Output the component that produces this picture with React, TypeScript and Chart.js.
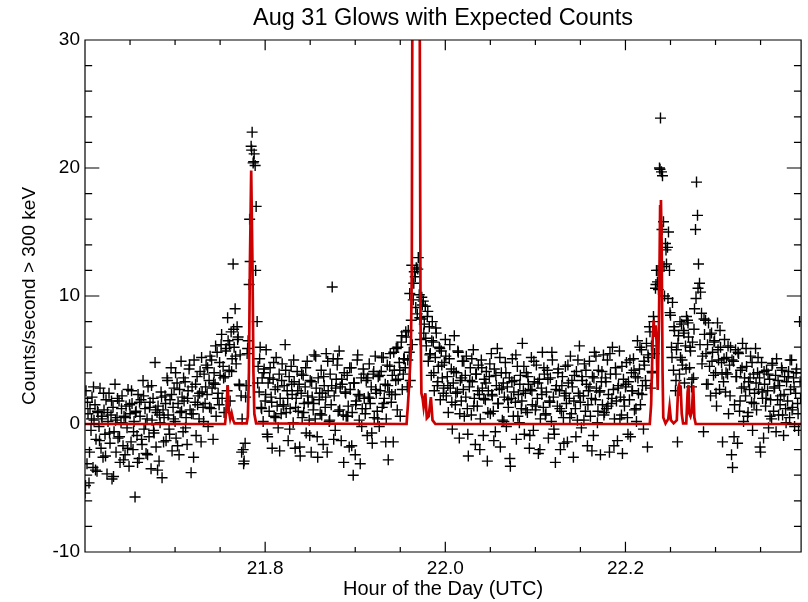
import { useEffect, useRef } from "react";
import { Chart, registerables } from "chart.js";

Chart.register(...registerables);

const chartTitle = "Aug 31 Glows with Expected Counts";
const xAxisTitle = "Hour of the Day (UTC)";
const yAxisTitle = "Counts/second > 300 keV";

const startHour = 21.6;
const xMin = 21.6;
const xMax = 22.395;
const yMin = -10;
const yMax = 30;

const xMajorTicks = [21.8, 22.0, 22.2];
const xMinorTicks = [21.65, 21.7, 21.75, 21.85, 21.9, 21.95, 22.05, 22.1, 22.15, 22.25, 22.3, 22.35];
const yMajorTicks = [-10, 0, 10, 20, 30];
const yMinorTicks = [-8, -6, -4, -2, 2, 4, 6, 8, 12, 14, 16, 18, 22, 24, 26, 28];

// sample times (set A), seconds after 21.6 h UTC
const sampleSecondsA = [
  0,4,8,12,16,20,24,28,32,36,40,44,48,52,56,60,64,68,72,76,
  80,84,88,92,96,100,104,108,112,116,120,124,128,132,136,140,144,148,152,156,
  160,164,168,172,176,180,184,188,192,196,200,204,208,212,216,220,224,228,232,236,
  240,244,248,252,256,260,264,268,272,276,280,284,288,292,296,300,304,308,312,316,
  320,324,328,332,336,340,344,348,352,356,360,364,368,372,376,380,384,388,392,396,
  400,404,408,412,416,420,424,428,432,436,440,444,448,452,456,460,464,468,472,476,
  480,484,488,492,496,500,504,508,512,516,520,524,528,532,536,540,544,548,552,556,
  560,564,568,572,576,580,584,588,592,596,600,604,608,612,616,620,624,628,632,636,
  640,644,648,652,656,660,664,668,672,676,680,684,688,692,696,700,704,708,712,716,
  720,724,728,732,736,740,744,748,752,756,760,764,768,772,776,780,784,788,792,796,
  800,804,808,812,816,820,824,828,832,836,840,844,848,852,856,860,864,868,872,876,
  880,884,888,892,896,900,904,908,912,916,920,924,928,932,936,940,944,948,952,956,
  960,964,968,972,976,980,984,988,992,996,1000,1004,1008,1012,1016,1020,1024,1028,1032,1036,
  1040,1044,1048,1052,1056,1060,1064,1068,1072,1076,1080,1084,1088,1092,1096,1100,1104,1108,1112,1116,
  1120,1124,1128,1132,1136,1140,1144,1148,1152,1156,1160,1164,1168,1172,1176,1180,1184,1188,1192,1196,
  1200,1204,1208,1212,1216,1220,1224,1228,1232,1236,1240,1244,1248,1252,1256,1260,1264,1268,1272,1276,
  1280,1284,1288,1292,1296,1300,1304,1308,1312,1316,1320,1324,1328,1332,1336,1340,1344,1348,1352,1356,
  1360,1364,1368,1372,1376,1380,1384,1388,1392,1396,1400,1404,1408,1412,1416,1420,1424,1428,1432,1436,
  1440,1444,1448,1452,1456,1460,1464,1468,1472,1476,1480,1484,1488,1492,1496,1500,1504,1508,1512,1516,
  1520,1524,1528,1532,1536,1540,1544,1548,1552,1556,1560,1564,1568,1572,1576,1580,1584,1588,1592,1596,
  1600,1604,1608,1612,1616,1620,1624,1628,1632,1636,1640,1644,1648,1652,1656,1660,1664,1668,1672,1676,
  1680,1684,1688,1692,1696,1700,1704,1708,1712,1716,1720,1724,1728,1732,1736,1740,1744,1748,1752,1756,
  1760,1764,1768,1772,1776,1780,1784,1788,1792,1796,1800,1804,1808,1812,1816,1820,1824,1828,1832,1836,
  1840,1844,1848,1852,1856,1860,1864,1868,1872,1876,1880,1884,1888,1892,1896,1900,1904,1908,1912,1916,
  1920,1924,1928,1932,1936,1940,1944,1948,1952,1956,1960,1964,1968,1972,1976,1980,1984,1988,1992,1996,
  2000,2004,2008,2012,2016,2020,2024,2028,2032,2036,2040,2044,2048,2052,2056,2060,2064,2068,2072,2076,
  2080,2084,2088,2092,2096,2100,2104,2108,2112,2116,2120,2124,2128,2132,2136,2140,2144,2148,2152,2156,
  2160,2164,2168,2172,2176,2180,2184,2188,2192,2196,2200,2204,2208,2212,2216,2220,2224,2228,2232,2236,
  2240,2244,2248,2252,2256,2260,2264,2268,2272,2276,2280,2284,2288,2292,2296,2300,2304,2308,2312,2316,
  2320,2324,2328,2332,2336,2340,2344,2348,2352,2356,2360,2364,2368,2372,2376,2380,2384,2388,2392,2396,
  2400,2404,2408,2412,2416,2420,2424,2428,2432,2436,2440,2444,2448,2452,2456,2460,2464,2468,2472,2476,
  2480,2484,2488,2492,2496,2500,2504,2508,2512,2516,2520,2524,2528,2532,2536,2540,2544,2548,2552,2556,
  2560,2564,2568,2572,2576,2580,2584,2588,2592,2596,2600,2604,2608,2612,2616,2620,2624,2628,2632,2636,
  2640,2644,2648,2652,2656,2660,2664,2668,2672,2676,2680,2684,2688,2692,2696,2700,2704,2708,2712,2716,
  2720,2724,2728,2732,2736,2740,2744,2748,2752,2756,2760,2764,2768,2772,2776,2780,2784,2788,2792,2796,
  2800,2804,2808,2812,2816,2820,2824,2828,2832,2836,2840,2844,2848,2852,2856,2860,
];

// measured counts/second > 300 keV (set A)
const countsPerSecondA = [
  -5.4,2.6,-3.1,0.8,-4.6,1.2,-0.5,2.1,-3.4,0.3,1.5,-1.2,-3.7,0.9,-0.2,2.8,-1.9,0.4,-2.6,1.1,
  -0.8,1.9,-3.9,0.2,2.4,-1.5,0.7,-4.3,1.3,-0.6,3.1,-2.2,0.5,-1.1,1.8,-3.0,0.1,2.2,-1.7,0.6,
  -2.4,1.4,-0.3,2.7,-3.3,0.8,-1.4,1.6,-2.0,0.2,-5.7,1.0,-0.9,2.3,-2.7,0.6,1.9,-1.6,3.4,-0.4,
  1.2,-2.3,0.4,2.9,-1.0,1.7,-3.5,0.3,2.0,-0.7,4.8,-1.8,0.9,1.4,-2.9,0.1,2.5,-4.2,1.1,0.5,
  2.2,-1.3,3.6,0.7,-0.4,1.9,4.4,-2.1,1.3,2.8,0.2,-1.1,3.2,1.6,-2.4,0.9,4.9,2.1,-0.6,1.8,
  3.3,0.5,-1.6,2.6,4.3,1.1,-3.8,2.9,0.8,5.0,1.7,-0.9,3.7,2.2,0.4,4.1,-1.4,2.5,1.3,3.9,
  1.6,4.6,2.3,-0.2,3.4,5.3,1.2,2.8,-1.2,4.0,3.1,0.6,5.6,2.4,1.5,3.8,6.2,2.0,4.5,0.9,
  3.7,5.9,2.6,6.5,4.2,1.8,7.2,5.1,12.5,6.0,9.0,4.7,7.6,6.8,3.1,5.4,2.2,0.4,-2.0,-2.9,
  -1.5,3.0,5.5,6.5,10.9,12.7,21.7,22.8,20.4,21.1,20.2,17.0,8.0,4.5,2.5,6.0,1.3,3.6,0.2,4.3,
  1.8,5.8,-0.8,3.2,1.0,4.4,2.1,-1.9,3.5,0.6,2.7,5.2,1.4,-0.3,3.9,2.0,0.8,4.7,1.5,3.0,
  6.2,0.9,2.6,-1.3,3.7,1.2,4.5,2.3,0.1,3.3,-1.9,2.0,4.1,1.0,3.1,-2.5,2.4,0.5,3.8,1.6,
  2.9,-0.7,4.9,1.7,0.3,3.4,-2.2,2.1,1.1,5.4,0.4,2.8,-1.0,3.6,1.9,0.8,4.2,2.4,-1.6,3.0,
  1.3,5.5,-2.2,2.6,0.2,3.9,1.5,10.7,5.1,2.2,-0.5,3.5,4.6,1.0,5.7,2.9,-1.3,3.1,0.7,4.0,
  2.5,0.6,3.8,1.4,-1.8,2.7,4.4,0.9,-4.0,3.2,-2.4,1.8,5.0,2.3,0.3,-3.1,3.6,1.2,4.3,2.0,
  0.8,3.4,-0.9,2.1,4.7,1.6,2.9,-1.5,3.9,0.5,5.3,2.4,1.0,3.7,-0.2,2.6,4.1,1.3,5.2,2.0,
  3.1,0.4,4.6,-2.8,2.5,5.5,1.7,3.8,-1.4,4.2,2.3,5.9,1.1,3.5,4.8,0.6,6.4,2.7,3.9,5.1,
  4.4,6.8,2.9,7.3,5.6,3.4,8.1,6.2,9.7,11.9,11.5,12.2,8.6,13.0,10.1,6.6,8.2,9.3,9.6,7.8,
  9.2,6.1,8.4,4.9,7.6,5.5,3.8,8.0,6.4,2.6,5.2,7.1,3.0,4.5,6.0,1.9,5.7,3.6,2.4,4.8,
  6.6,2.2,3.7,0.9,5.1,2.8,4.3,-0.4,3.2,6.9,1.5,4.0,2.5,5.6,-1.1,3.4,1.8,4.9,2.7,0.6,
  3.8,5.3,1.2,-2.5,2.9,4.4,0.7,3.3,5.8,2.0,-1.6,3.9,1.4,4.6,2.3,0.4,5.0,2.8,-0.9,3.5,
  1.9,4.1,-2.9,2.6,3.7,0.8,5.5,2.2,1.0,4.3,-0.6,3.0,5.9,1.6,2.7,-1.8,4.0,0.3,3.2,2.1,
  4.8,-0.2,2.9,1.3,3.6,-3.3,2.0,5.1,0.6,3.4,1.7,-1.2,4.5,2.3,0.1,3.8,1.2,6.3,2.6,-0.8,
  2.4,4.0,0.9,3.1,-1.9,2.7,5.2,1.5,-0.5,3.3,1.1,4.6,2.0,-2.3,3.5,0.4,2.8,5.6,1.3,3.9,
  0.7,2.5,4.2,-1.1,1.8,3.6,0.2,5.0,2.1,-0.8,-3.0,3.0,1.4,4.3,2.6,-2.0,1.0,3.7,0.5,2.2,
  4.5,1.6,-1.4,3.2,2.0,5.3,0.8,2.9,-2.6,3.8,1.2,4.1,0.3,2.4,6.1,1.7,-0.3,3.4,2.2,4.7,
  1.0,3.1,-1.7,2.6,4.9,0.6,2.0,3.7,-0.9,5.6,1.9,2.8,0.1,4.2,2.5,-2.4,3.3,1.5,5.4,0.9,
  3.6,1.2,5.0,2.3,-2.2,3.9,1.6,6.0,2.7,0.4,4.4,1.8,-1.3,3.0,5.7,2.1,0.7,-2.3,3.5,1.4,
  2.9,4.8,0.5,3.3,1.9,-1.0,4.0,2.6,5.1,1.1,3.7,0.2,6.5,2.4,4.3,1.5,5.8,3.0,-0.4,4.6,
  3.4,6.3,-1.8,5.2,7.6,2.8,6.1,4.0,8.4,5.5,10.6,12.0,11.1,10.5,20.0,23.9,19.7,19.4,15.8,10.0,
  14.1,12.5,13.8,15.0,12.0,8.5,6.0,9.5,4.2,7.3,2.6,5.8,-1.4,6.9,3.9,5.2,7.8,4.6,7.3,3.2,
  6.1,8.4,8.1,6.8,4.4,5.7,2.9,6.4,3.6,9.0,15.2,18.9,16.3,12.5,11.0,10.3,8.65,5.3,-0.6,7.0,
  8.1,3.1,6.2,7.9,4.5,2.2,7.1,5.6,3.8,6.5,4.0,1.4,7.9,5.0,2.7,6.0,4.8,-1.4,3.3,6.6,
  2.5,5.2,3.9,0.8,4.6,6.0,-2.4,-3.4,4.9,1.5,5.8,3.7,-1.5,5.5,1.0,4.2,2.8,6.3,0.2,3.6,
  2.2,4.5,0.6,3.3,2.7,5.3,1.7,-0.5,3.9,2.4,5.9,1.1,4.0,2.7,3.6,-2.2,4.8,2.0,-1.1,3.1,
  1.4,4.2,2.6,-0.3,3.5,1.9,0.4,4.75,1.0,2.9,3.8,5.1,1.9,0.7,3.0,2.2,4.4,0.7,-0.9,3.7,
  1.2,3.3,1.8,4.1,0.5,2.7,5.0,1.3,3.6,-0.2,2.4,4.3,1.6,-0.5,8.0,2.0,
];

// sample times (set B, interleaved), seconds after 21.6 h UTC
const sampleSecondsB = [
  2,10,18,26,34,42,50,58,66,74,82,90,98,106,114,122,130,138,146,154,
  162,170,178,186,194,202,210,218,226,234,242,250,258,266,274,282,290,298,306,314,
  322,330,338,346,354,362,370,378,386,394,402,410,418,426,434,442,450,458,466,474,
  482,490,498,506,514,522,530,538,546,554,562,570,578,586,594,602,610,618,626,634,
  642,650,658,666,674,682,690,698,706,714,722,730,738,746,754,762,770,778,786,794,
  802,810,818,826,834,842,850,858,866,874,882,890,898,906,914,922,930,938,946,954,
  962,970,978,986,994,1002,1010,1018,1026,1034,1042,1050,1058,1066,1074,1082,1090,1098,1106,1114,
  1122,1130,1138,1146,1154,1162,1170,1178,1186,1194,1202,1210,1218,1226,1234,1242,1250,1258,1266,1274,
  1282,1290,1298,1306,1314,1322,1330,1338,1346,1354,1362,1370,1378,1386,1394,1402,1410,1418,1426,1434,
  1442,1450,1458,1466,1474,1482,1490,1498,1506,1514,1522,1530,1538,1546,1554,1562,1570,1578,1586,1594,
  1602,1610,1618,1626,1634,1642,1650,1658,1666,1674,1682,1690,1698,1706,1714,1722,1730,1738,1746,1754,
  1762,1770,1778,1786,1794,1802,1810,1818,1826,1834,1842,1850,1858,1866,1874,1882,1890,1898,1906,1914,
  1922,1930,1938,1946,1954,1962,1970,1978,1986,1994,2002,2010,2018,2026,2034,2042,2050,2058,2066,2074,
  2082,2090,2098,2106,2114,2122,2130,2138,2146,2154,2162,2170,2178,2186,2194,2202,2210,2218,2226,2234,
  2242,2250,2258,2266,2274,2282,2290,2298,2306,2314,2322,2330,2338,2346,2354,2362,2370,2378,2386,2394,
  2402,2410,2418,2426,2434,2442,2450,2458,2466,2474,2482,2490,2498,2506,2514,2522,2530,2538,2546,2554,
  2562,2570,2578,2586,2594,2602,2610,2618,2626,2634,2642,2650,2658,2666,2674,2682,2690,2698,2706,2714,
  2722,2730,2738,2746,2754,2762,2770,2778,2786,2794,2802,2810,2818,2826,2834,2842,2850,2858,
];

// measured counts/second > 300 keV (set B)
const countsPerSecondB = [
  -4.8,1.7,-2.2,0.4,2.9,-3.6,1.0,-1.3,0.6,2.4,-2.5,0.9,-0.7,1.8,-4.1,0.3,2.0,-1.0,1.2,-2.8,
  0.5,-1.9,1.5,2.6,-0.6,0.9,-3.0,1.7,-1.2,2.2,0.0,-2.4,1.3,3.0,-0.5,1.1,-3.6,0.7,2.1,-1.4,
  1.6,3.4,-0.8,2.3,0.4,4.0,-1.7,2.7,1.0,3.6,-0.3,2.0,4.6,0.8,-2.6,3.1,1.5,2.4,5.2,0.2,
  2.9,4.4,1.3,5.0,3.2,6.1,2.0,4.8,7.0,3.6,5.7,8.3,6.2,4.1,7.4,5.3,6.6,3.0,-2.2,-3.1,
  2.1,5.9,16.0,21.4,20.5,12.0,3.2,5.1,1.2,4.0,2.3,-1.0,3.6,1.7,4.8,0.5,2.9,-2.1,3.4,1.4,
  4.2,2.0,-0.4,3.1,5.0,1.3,2.6,-1.8,3.9,0.9,4.4,2.2,-0.9,3.3,1.6,5.3,-2.6,2.4,0.7,3.7,
  2.1,4.9,0.3,3.0,-1.2,2.8,5.1,1.1,3.5,-3.0,2.4,0.6,4.4,-1.7,3.2,1.5,5.4,2.2,-0.2,3.9,
  1.2,3.6,2.0,-0.7,4.1,2.7,0.4,3.8,5.2,1.6,-1.4,3.0,4.5,2.3,5.6,3.4,6.0,4.2,6.9,5.1,
  7.2,5.0,10.2,12.4,11.0,9.1,12.1,8.3,9.9,7.1,6.7,8.8,5.4,6.5,4.0,7.5,3.3,5.9,4.6,2.8,
  5.3,3.0,6.2,1.7,4.1,2.4,5.7,0.8,3.6,4.9,2.1,-0.8,3.4,5.1,1.4,3.9,2.6,-2.0,4.4,2.0,
  3.2,0.9,4.7,2.3,-1.3,3.8,1.6,5.2,2.8,0.2,4.0,1.9,-2.7,3.3,2.5,5.4,0.6,3.1,1.8,4.5,
  1.1,3.7,-0.9,2.6,4.9,1.4,3.2,-2.0,2.3,4.4,0.8,3.5,1.7,5.6,-0.4,2.7,4.0,1.2,3.0,-1.5,
  2.4,4.6,0.5,3.4,1.8,-1.0,5.0,2.2,3.7,0.3,4.2,1.5,2.9,-2.1,3.6,5.3,1.0,2.6,4.1,0.7,
  3.3,1.4,5.5,2.0,-1.7,3.9,2.8,0.4,4.5,1.9,3.1,-0.8,5.0,2.6,4.2,1.2,3.6,6.0,2.3,4.9,
  3.0,5.4,7.2,4.1,8.0,10.9,12.0,19.9,15.2,12.3,13.6,9.8,8.7,5.2,7.6,3.4,6.3,8.0,5.0,7.1,
  4.3,7.9,6.0,3.5,7.4,9.8,10.6,6.2,4.7,8.2,5.5,3.1,7.0,4.9,6.4,2.4,5.8,7.3,3.9,5.1,
  4.0,6.1,2.2,5.0,-1.0,3.7,5.6,1.8,4.4,2.9,5.9,0.9,3.6,4.8,1.6,3.2,5.2,-1.8,2.5,4.1,
  2.0,3.9,0.6,4.6,2.8,-0.6,3.4,1.5,4.2,2.3,0.1,3.7,5.0,1.1,2.9,4.0,0.8,3.3,
];

// expected counts model (red curve)
const modelHours = [
  21.6, 21.7555, 21.757, 21.7584, 21.7598, 21.7612, 21.7628, 21.7645, 21.766,
  21.7795, 21.7808, 21.782, 21.783, 21.7845, 21.786, 21.787, 21.788, 21.79,
  21.957, 21.9585, 21.96, 21.9618, 21.9628, 21.9635, 21.966, 21.969, 21.9715,
  21.9725, 21.9735, 21.9748, 21.9759, 21.9778, 21.9795, 21.9815, 21.984, 21.9858, 21.989,
  22.227, 22.2285, 22.2302, 22.2313, 22.2322, 22.2335, 22.2345, 22.2358, 22.2372,
  22.2385, 22.2394, 22.2402, 22.2412, 22.242, 22.2445, 22.2475, 22.249, 22.2505,
  22.2535, 22.257, 22.2585, 22.2595, 22.2604, 22.2612, 22.2625, 22.264, 22.2675,
  22.269, 22.27, 22.271, 22.2722, 22.2738, 22.2752, 22.2765, 22.278, 22.395,
];
const modelCounts = [
  0, 0, 1.2, 3.05, 1.0, 0.4, 0.85, 0.3, 0.05,
  0.05, 0.6, 4, 12, 19.8, 12, 4, 0.8, 0.05,
  0, 1.5, 3.2, 5.8, 12, 35, 80, 80, 35,
  8, 2.4, 2.0, 1.35, 2.4, 0.45, 0.6, 2.1, 0.3, 0,
  0, 1.5, 6.5, 8.1, 6.8, 7.7, 6.5, 2.66, 8,
  17, 17.5, 14, 4, 0.5, 0.05, 0.4, 1.35, 0.3,
  0.05, 0.3, 2.8, 3.05, 2.2, 3.0, 0.8, 0.05, 0.05,
  2.5, 3.05, 0.8, 0.6, 1.0, 3.05, 0.5, 0, 0,
];

const FONT = "'Liberation Sans', Arial, Helvetica, sans-serif";

const idlFramePlugin = {
  id: "idlFrame",
  afterDatasetsDraw(chart: any) {
    const { ctx, chartArea } = chart;
    const { left, right, top, bottom } = chartArea;
    const xs = chart.scales.x;
    const ys = chart.scales.y;
    const w = right - left;
    const h = bottom - top;
    const xMajLen = 0.02 * h;
    const yMajLen = 0.02 * w;
    ctx.save();
    ctx.strokeStyle = "#000";
    ctx.lineWidth = 1.2;
    ctx.beginPath();
    ctx.rect(left, top, w, h);
    const xTick = (v: number, len: number) => {
      const px = xs.getPixelForValue(v);
      ctx.moveTo(px, bottom);
      ctx.lineTo(px, bottom - len);
      ctx.moveTo(px, top);
      ctx.lineTo(px, top + len);
    };
    const yTick = (v: number, len: number) => {
      const py = ys.getPixelForValue(v);
      ctx.moveTo(left, py);
      ctx.lineTo(left + len, py);
      ctx.moveTo(right, py);
      ctx.lineTo(right - len, py);
    };
    xMajorTicks.forEach((v) => xTick(v, xMajLen));
    xMinorTicks.forEach((v) => xTick(v, xMajLen / 2));
    yMajorTicks.forEach((v) => yTick(v, yMajLen));
    yMinorTicks.forEach((v) => yTick(v, yMajLen / 2));
    ctx.stroke();
    ctx.restore();
  },
};

export default function App() {
  const ref = useRef<HTMLCanvasElement>(null);

  useEffect(() => {
    const canvas = ref.current;
    if (!canvas) return;
    const toPoints = (secs: number[], vals: number[]) =>
      secs.map((s, i) => ({ x: startHour + s / 3600, y: vals[i] }));
    const countPoints = [
      ...toPoints(sampleSecondsA, countsPerSecondA),
      ...toPoints(sampleSecondsB, countsPerSecondB),
    ];
    const modelPoints = modelHours.map((t, i) => ({ x: t, y: modelCounts[i] }));

    const chart = new Chart(canvas, {
      type: "scatter",
      data: {
        datasets: [
          {
            label: "Expected counts",
            data: modelPoints,
            showLine: true,
            borderColor: "rgb(204,0,0)",
            backgroundColor: "rgb(204,0,0)",
            borderWidth: 2.7,
            pointRadius: 0,
            tension: 0,
            clip: 0,
          } as any,
          {
            label: "Counts",
            data: countPoints,
            showLine: false,
            pointStyle: "cross",
            pointRadius: 5.5,
            pointBorderWidth: 1.4,
            borderColor: "#000",
            backgroundColor: "#000",
            clip: 0,
          } as any,
        ],
      },
      options: {
        responsive: false,
        animation: false,
        events: [],
        layout: { padding: { left: 0, right: 4, top: 0, bottom: 0 } },
        plugins: {
          legend: { display: false },
          tooltip: { enabled: false },
          title: {
            display: true,
            text: chartTitle,
            fullSize: false,
            color: "#000",
            font: { family: FONT, size: 23.5, weight: "normal", lineHeight: 1.2 },
            padding: { top: 4, bottom: 7.8 },
          },
        },
        scales: {
          x: {
            type: "linear",
            min: xMin,
            max: xMax,
            grid: { display: false, drawTicks: false },
            border: { display: false },
            afterBuildTicks: (scale: any) => {
              scale.ticks = xMajorTicks.map((value) => ({ value }));
            },
            afterFit: (scale: any) => {
              scale.height = 50;
            },
            ticks: {
              autoSkip: false,
              maxRotation: 0,
              minRotation: 0,
              padding: 5,
              color: "#000",
              font: { family: FONT, size: 19 },
              callback: (v: any) => Number(v).toFixed(1),
            },
            title: {
              display: true,
              text: xAxisTitle,
              color: "#000",
              font: { family: FONT, size: 20, lineHeight: 1.2 },
              padding: { top: 0, bottom: 1 },
            },
          },
          y: {
            type: "linear",
            min: yMin,
            max: yMax,
            grid: { display: false, drawTicks: false },
            border: { display: false },
            afterBuildTicks: (scale: any) => {
              scale.ticks = yMajorTicks.map((value) => ({ value }));
            },
            afterFit: (scale: any) => {
              scale.width = 85;
            },
            ticks: {
              autoSkip: false,
              padding: 5,
              color: "#000",
              font: { family: FONT, size: 19 },
              callback: (v: any) => String(v),
            },
            title: {
              display: true,
              text: yAxisTitle,
              color: "#000",
              font: { family: FONT, size: 19, lineHeight: 1.2 },
              padding: { top: 18.6, bottom: 0 },
            },
          },
        },
      } as any,
      plugins: [idlFramePlugin],
    });
    return () => chart.destroy();
  }, []);

  return (
    <div style={{ position: "absolute", left: 0, top: 0, width: 808, height: 602, background: "#fff" }}>
      <canvas ref={ref} width={808} height={602} style={{ display: "block", width: 808, height: 602 }} />
    </div>
  );
}
